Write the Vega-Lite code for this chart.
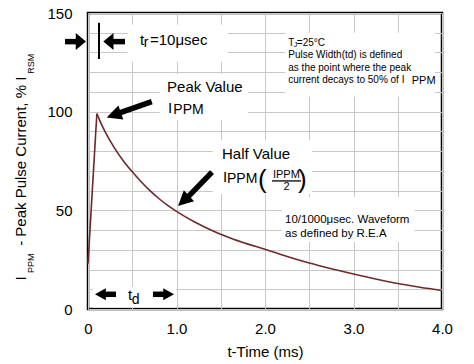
{
  "$schema": "https://vega.github.io/schema/vega-lite/v6.json",
  "width": 354,
  "height": 296,
  "autosize": "none",
  "padding": {"left": 88, "top": 13, "right": 32, "bottom": 55},
  "config": {
    "view": {"stroke": "black", "strokeWidth": 2.5},
    "font": "Liberation Sans",
    "text": {"font": "Liberation Sans", "color": "black"}
  },
  "datasets": {
    "rise": [
      {"x": 0.0, "y": 23}, {"x": 0.1, "y": 99}
    ],
    "decay": [
      {"x": 0.1, "y": 99}, {"x": 0.15, "y": 93.8}, {"x": 0.2, "y": 89.2},
      {"x": 0.3, "y": 81.5}, {"x": 0.4, "y": 75}, {"x": 0.5, "y": 69.5}, {"x": 0.6, "y": 64.5},
      {"x": 0.7, "y": 60}, {"x": 0.8, "y": 56}, {"x": 0.9, "y": 52.5}, {"x": 1.0, "y": 49.5},
      {"x": 1.2, "y": 44.2}, {"x": 1.4, "y": 39.8}, {"x": 1.6, "y": 36.1}, {"x": 1.8, "y": 33},
      {"x": 2.0, "y": 30.3}, {"x": 2.25, "y": 26.6}, {"x": 2.5, "y": 23.3}, {"x": 2.75, "y": 20.4},
      {"x": 3.0, "y": 17.7}, {"x": 3.25, "y": 15.2}, {"x": 3.5, "y": 12.9}, {"x": 3.75, "y": 11}, {"x": 4.0, "y": 9.4}
    ],
    "boxes": [
      {"x": 0.446, "x2": 1.58, "y": 125.3, "y2": 144},
      {"x": 0.81, "x2": 1.81, "y": 95.8, "y2": 119},
      {"x": 1.41, "x2": 2.53, "y": 58.3, "y2": 85.7},
      {"x": 2.23, "x2": 3.92, "y": 107.5, "y2": 140},
      {"x": 2.19, "x2": 3.69, "y": 34, "y2": 56.8},
      {"x": 0.056, "x2": 0.994, "y": 0.8, "y2": 11.2}
    ],
    "shafts": [
      {"x": -0.26, "y": 135.5, "x2": -0.09, "y2": 135.5},
      {"x": 0.25, "y": 135.5, "x2": 0.418, "y2": 135.5},
      {"x": 0.18, "y": 7.45, "x2": 0.316, "y2": 7.45},
      {"x": 0.734, "y": 7.45, "x2": 0.86, "y2": 7.45},
      {"x": 0.35, "y": 99.3, "x2": 0.72, "y2": 105.1},
      {"x": 1.13, "y": 56.8, "x2": 1.401, "y2": 69.4}
    ],
    "trLine": [{"x": 0.124, "y": 126.7, "y2": 145}],
    "fracBar": [{"x": 2.079, "x2": 2.407, "y": 64.9}],
    "headTrR": [{"x": -0.023, "y": 135.5}],
    "headTrL": [{"x": 0.173, "y": 135.5}],
    "headTdL": [{"x": 0.079, "y": 7.45}],
    "headTdR": [{"x": 0.972, "y": 7.45}],
    "headPeak": [{"x": 0.211, "y": 97.1}],
    "headHalf": [{"x": 1.017, "y": 52.2}],
    "txt15": [
      {"x": 0.588, "y": 133.8, "text": "t"},
      {"x": 0.7, "y": 133.8, "text": "=10μsec"},
      {"x": 0.893, "y": 110, "text": "Peak Value"},
      {"x": 0.904, "y": 99.2, "text": "I"},
      {"x": 1.514, "y": 76, "text": "Half Value"},
      {"x": 1.525, "y": 64.5, "text": "I"},
      {"x": 0.452, "y": 4.56, "text": "t"}
    ],
    "txt14": [
      {"x": 0.63, "y": 132.8, "text": "r"},
      {"x": 0.964, "y": 98.6, "text": "PPM"},
      {"x": 1.571, "y": 64.1, "text": "PPM"},
      {"x": 0.494, "y": 2.53, "text": "d"}
    ],
    "txt10": [
      {"x": 2.263, "y": 133.4, "text": "T"},
      {"x": 2.36, "y": 133.4, "text": "=25°C"},
      {"x": 2.263, "y": 127.1, "text": "Pulse Width(td) is defined"},
      {"x": 2.263, "y": 120.8, "text": "as the point where the peak"},
      {"x": 2.263, "y": 114.7, "text": "current decays to 50% of I"}
    ],
    "txt7": [{"x": 2.325, "y": 132.6, "text": "J"}],
    "txt11": [
      {"x": 3.658, "y": 114.1, "text": "PPM"},
      {"x": 2.09, "y": 66.4, "text": "IPPM"}
    ],
    "txt11c": [{"x": 2.243, "y": 60.3, "text": "2"}],
    "txt115": [
      {"x": 2.226, "y": 43.4, "text": "10/1000μsec. Waveform"},
      {"x": 2.226, "y": 36.6, "text": "as defined by R.E.A"}
    ],
    "paren": [
      {"x": 1.921, "y": 61.3, "text": "("},
      {"x": 2.373, "y": 61.3, "text": ")"}
    ],
    "ytitle": [
      {"x": -0.706, "y": 14.5, "text": "I"},
      {"x": -0.706, "y": 32, "text": "- Peak Pulse Current, % I"}
    ],
    "ytitleSub": [
      {"x": -0.61, "y": 18.3, "text": "PPM"},
      {"x": -0.61, "y": 119.2, "text": "RSM"}
    ]
  },
  "encoding": {
    "x": {
      "field": "x", "type": "quantitative",
      "scale": {"domain": [0, 4], "nice": false, "zero": false},
      "axis": {
        "values": [0, 0.5, 1, 1.5, 2, 2.5, 3, 3.5, 4],
        "labelExpr": "datum.value == 0 ? '0' : (datum.value % 1 == 0 ? format(datum.value, '.1f') : '')",
        "grid": true, "gridColor": "#c8c8c8", "gridWidth": 1,
        "ticks": false, "domain": false, "labelFlush": false,
        "labelFont": "Liberation Sans", "labelFontSize": 15, "labelColor": "black", "labelPadding": 12,
        "title": "t-Time (ms)", "titleFont": "Liberation Sans", "titleFontSize": 15,
        "titleFontWeight": "normal", "titleColor": "black", "titlePadding": 8
      }
    },
    "y": {
      "field": "y", "type": "quantitative",
      "scale": {"domain": [0, 150], "nice": false, "zero": false},
      "axis": {
        "values": [0, 10, 20, 30, 40, 50, 60, 70, 80, 90, 100, 110, 120, 130, 140, 150],
        "labelExpr": "datum.value % 50 == 0 ? format(datum.value, 'd') : ''",
        "grid": true, "gridColor": "#c8c8c8", "gridWidth": 1,
        "ticks": false, "domain": false,
        "labelFont": "Liberation Sans", "labelFontSize": 15, "labelColor": "black", "labelPadding": 16,
        "title": null
      }
    }
  },
  "layer": [
    {"data": {"name": "boxes"}, "mark": {"type": "rect", "fill": "white"},
     "encoding": {"x2": {"field": "x2"}, "y2": {"field": "y2"}}},
    {"data": {"name": "rise"}, "mark": {"type": "line", "color": "#6e2a2a", "strokeWidth": 1.6}},
    {"data": {"name": "decay"}, "mark": {"type": "line", "color": "#6e2a2a", "strokeWidth": 1.6, "interpolate": "monotone"}},
    {"data": {"name": "shafts"}, "mark": {"type": "rule", "color": "black", "strokeWidth": 5.5, "strokeCap": "butt"},
     "encoding": {"x2": {"field": "x2"}, "y2": {"field": "y2"}}},
    {"data": {"name": "trLine"}, "mark": {"type": "rule", "color": "black", "strokeWidth": 2},
     "encoding": {"y2": {"field": "y2"}}},
    {"data": {"name": "fracBar"}, "mark": {"type": "rule", "color": "black", "strokeWidth": 1.3},
     "encoding": {"x2": {"field": "x2"}}},
    {"data": {"name": "headTrR"}, "mark": {"type": "point", "shape": "M 0 0 L -1.2 -1 L -1.2 1 Z", "size": 289, "filled": true, "color": "black", "opacity": 1, "strokeWidth": 0, "angle": 0}},
    {"data": {"name": "headTrL"}, "mark": {"type": "point", "shape": "M 0 0 L -1.2 -1 L -1.2 1 Z", "size": 289, "filled": true, "color": "black", "opacity": 1, "strokeWidth": 0, "angle": 180}},
    {"data": {"name": "headTdL"}, "mark": {"type": "point", "shape": "M 0 0 L -1.8 -1 L -1.8 1 Z", "size": 144, "filled": true, "color": "black", "opacity": 1, "strokeWidth": 0, "angle": 180}},
    {"data": {"name": "headTdR"}, "mark": {"type": "point", "shape": "M 0 0 L -1.8 -1 L -1.8 1 Z", "size": 144, "filled": true, "color": "black", "opacity": 1, "strokeWidth": 0, "angle": 0}},
    {"data": {"name": "headPeak"}, "mark": {"type": "point", "shape": "M 0 0 L -2 -1 L -2 1 Z", "size": 225, "filled": true, "color": "black", "opacity": 1, "strokeWidth": 0, "angle": 160.9}},
    {"data": {"name": "headHalf"}, "mark": {"type": "point", "shape": "M 0 0 L -2 -1 L -2 1 Z", "size": 225, "filled": true, "color": "black", "opacity": 1, "strokeWidth": 0, "angle": 136.9}},
    {"data": {"name": "txt15"}, "mark": {"type": "text", "fontSize": 15, "align": "left", "baseline": "alphabetic"},
     "encoding": {"text": {"field": "text"}}},
    {"data": {"name": "txt14"}, "mark": {"type": "text", "fontSize": 14, "align": "left", "baseline": "alphabetic"},
     "encoding": {"text": {"field": "text"}}},
    {"data": {"name": "txt10"}, "mark": {"type": "text", "fontSize": 10, "align": "left", "baseline": "alphabetic"},
     "encoding": {"text": {"field": "text"}}},
    {"data": {"name": "txt7"}, "mark": {"type": "text", "fontSize": 7, "align": "left", "baseline": "alphabetic"},
     "encoding": {"text": {"field": "text"}}},
    {"data": {"name": "txt11"}, "mark": {"type": "text", "fontSize": 11, "align": "left", "baseline": "alphabetic"},
     "encoding": {"text": {"field": "text"}}},
    {"data": {"name": "txt11c"}, "mark": {"type": "text", "fontSize": 11, "align": "center", "baseline": "alphabetic"},
     "encoding": {"text": {"field": "text"}}},
    {"data": {"name": "txt115"}, "mark": {"type": "text", "fontSize": 11.5, "align": "left", "baseline": "alphabetic"},
     "encoding": {"text": {"field": "text"}}},
    {"data": {"name": "paren"}, "mark": {"type": "text", "fontSize": 26, "align": "left", "baseline": "alphabetic"},
     "encoding": {"text": {"field": "text"}}},
    {"data": {"name": "ytitle"}, "mark": {"type": "text", "fontSize": 15, "align": "left", "baseline": "alphabetic", "angle": 270},
     "encoding": {"text": {"field": "text"}}},
    {"data": {"name": "ytitleSub"}, "mark": {"type": "text", "fontSize": 9, "align": "left", "baseline": "alphabetic", "angle": 270},
     "encoding": {"text": {"field": "text"}}}
  ]
}
